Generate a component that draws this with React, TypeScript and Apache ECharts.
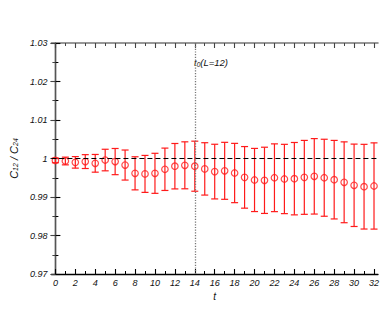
import React, { useEffect, useRef } from "react";
import * as echarts from "echarts";

const tValues = [0, 1, 2, 3, 4, 5, 6, 7, 8, 9, 10, 11, 12, 13, 14, 15, 16, 17, 18, 19, 20, 21, 22, 23, 24, 25, 26, 27, 28, 29, 30, 31, 32];
const ratio = [0.9995, 0.99935, 0.9990, 0.9992, 0.99875, 0.9996, 0.9992, 0.9983, 0.99615, 0.9960, 0.99615, 0.9972, 0.9980, 0.99823, 0.9980, 0.9973, 0.9966, 0.9968, 0.99623, 0.9951, 0.99442, 0.99433, 0.9950, 0.99468, 0.99476, 0.9951, 0.99537, 0.9950, 0.9945, 0.99382, 0.99304, 0.99268, 0.99286];
const errors = [0.0006, 0.001, 0.0015, 0.0018, 0.0023, 0.0028, 0.0034, 0.0039, 0.0043, 0.0048, 0.0052, 0.0055, 0.0059, 0.0061, 0.0065, 0.0068, 0.0071, 0.0074, 0.0077, 0.0080, 0.0082, 0.0086, 0.0088, 0.0090, 0.0094, 0.0096, 0.0098, 0.0100, 0.0102, 0.0105, 0.0107, 0.0110, 0.0112];
const majorXTicks = [0, 2, 4, 6, 8, 10, 12, 14, 16, 18, 20, 22, 24, 26, 28, 30, 32];
const minorXTicks = [1, 3, 5, 7, 9, 11, 13, 15, 17, 19, 21, 23, 25, 27, 29, 31];
const referenceY = 1;
const t0Line = 14;

const FONT = "'Liberation Sans', Arial, sans-serif";

export default function App() {
  const ref = useRef<HTMLDivElement>(null);
  useEffect(() => {
    if (!ref.current) return;
    const chart = echarts.init(ref.current, null, { renderer: "svg" });
    const points = tValues.map((t, i) => [t, ratio[i]]);
    const bars = tValues.map((t, i) => [t, ratio[i] - errors[i], ratio[i] + errors[i]]);
    const xMin = -0.4;
    const xMax = 32.4;
    const labelStyle = { fontFamily: FONT, fontStyle: "italic", fontSize: 9, color: "#111" };
    const option: any = {
      animation: false,
      backgroundColor: "#fff",
      grid: { left: 50, right: 2, top: 43, bottom: 50 },
      xAxis: [
        {
          type: "value", min: xMin, max: xMax, position: "bottom",
          axisLine: { show: true, lineStyle: { color: "#000", width: 1.3 } },
          axisTick: { show: true, inside: true, length: 5, customValues: majorXTicks, lineStyle: { color: "#000", width: 1.1 } },
          axisLabel: { show: true, customValues: majorXTicks, margin: 4, ...labelStyle },
          splitLine: { show: false },
          name: "t", nameLocation: "middle", nameGap: 12,
          nameTextStyle: { fontFamily: FONT, fontStyle: "italic", fontSize: 10, color: "#111" },
        },
        {
          type: "value", min: xMin, max: xMax, position: "bottom",
          axisLine: { show: false },
          axisTick: { show: true, inside: true, length: 3, customValues: minorXTicks, lineStyle: { color: "#000", width: 1 } },
          axisLabel: { show: false },
          splitLine: { show: false },
        },
        {
          type: "value", min: xMin, max: xMax, position: "top",
          axisLine: { show: true, lineStyle: { color: "#777", width: 1.6 } },
          axisTick: { show: true, inside: true, length: 5, customValues: majorXTicks, lineStyle: { color: "#444", width: 1.1 } },
          axisLabel: { show: false },
          splitLine: { show: false },
        },
        {
          type: "value", min: xMin, max: xMax, position: "top",
          axisLine: { show: false },
          axisTick: { show: true, inside: true, length: 3, customValues: minorXTicks, lineStyle: { color: "#444", width: 1 } },
          axisLabel: { show: false },
          splitLine: { show: false },
        },
      ],
      yAxis: [
        {
          type: "value", min: 0.97, max: 1.03, interval: 0.01, position: "left",
          axisLine: { show: true, lineStyle: { color: "#000", width: 1.3 } },
          axisTick: { show: true, inside: true, length: 5, lineStyle: { color: "#000", width: 1.1 } },
          minorTick: { show: true, splitNumber: 2, length: 3, lineStyle: { color: "#000", width: 1 } },
          axisLabel: { margin: 4, ...labelStyle, formatter: (v: number) => String(+v.toFixed(2)) },
          splitLine: { show: false },
          name: "{c|C}{s|12}{c| / C}{s|24}", nameLocation: "middle", nameGap: 25, nameRotate: 90,
          nameTextStyle: {
            rich: {
              c: { fontFamily: FONT, fontStyle: "italic", fontSize: 11, color: "#111" },
              s: { fontFamily: FONT, fontStyle: "italic", fontSize: 7, color: "#111", verticalAlign: "bottom", padding: [4, 0, 0, 0] },
            },
          },
        },
        {
          type: "value", min: 0.97, max: 1.03, interval: 0.01, position: "right",
          axisLine: { show: true, lineStyle: { color: "#555", width: 1.3 } },
          axisTick: { show: true, inside: true, length: 5, lineStyle: { color: "#444", width: 1.1 } },
          minorTick: { show: true, splitNumber: 2, length: 3, lineStyle: { color: "#444", width: 1 } },
          axisLabel: { show: false },
          splitLine: { show: false },
        },
      ],
      series: [
        {
          type: "line",
          xAxisIndex: 0, yAxisIndex: 0,
          data: [],
          markLine: {
            silent: true, symbol: "none", label: { show: false },
            data: [
              { yAxis: referenceY, lineStyle: { color: "#000", type: [5, 3], width: 1.2 } },
              { xAxis: t0Line, lineStyle: { color: "#777", type: [1.2, 1.5], width: 1.3 } },
            ],
          },
        },
        {
          type: "custom",
          xAxisIndex: 0, yAxisIndex: 0,
          data: bars,
          renderItem: (params: any, api: any) => {
            const x = api.value(0);
            const lo = api.coord([x, api.value(1)]);
            const hi = api.coord([x, api.value(2)]);
            const hw = 3.5;
            const style = { stroke: "#ff1a1a", lineWidth: 1.2 };
            return {
              type: "group",
              children: [
                { type: "line", shape: { x1: lo[0], y1: lo[1], x2: hi[0], y2: hi[1] }, style },
                { type: "line", shape: { x1: lo[0] - hw, y1: lo[1], x2: lo[0] + hw, y2: lo[1] }, style },
                { type: "line", shape: { x1: hi[0] - hw, y1: hi[1], x2: hi[0] + hw, y2: hi[1] }, style },
              ],
            };
          },
          z: 3,
        },
        {
          type: "scatter",
          xAxisIndex: 0, yAxisIndex: 0,
          data: points,
          symbol: "circle",
          symbolSize: 6.5,
          itemStyle: { color: "rgba(0,0,0,0)", borderColor: "#ff1a1a", borderWidth: 1.2 },
          z: 4,
        },
      ],
      graphic: [
        {
          type: "text",
          left: 194,
          top: 57,
          style: {
            text: "{t|t}{s|0}{t|(L=12)}",
            rich: {
              t: { fontFamily: FONT, fontStyle: "italic", fontSize: 9.5, fill: "#111" },
              s: { fontFamily: FONT, fontStyle: "italic", fontSize: 6.5, fill: "#111", padding: [5, 0, 0, 0] },
            },
          },
        },
      ],
    };
    chart.setOption(option);
    return () => chart.dispose();
  }, []);
  return <div ref={ref} style={{ width: 382, height: 324, position: "absolute", left: 0, top: 0 }} />;
}
